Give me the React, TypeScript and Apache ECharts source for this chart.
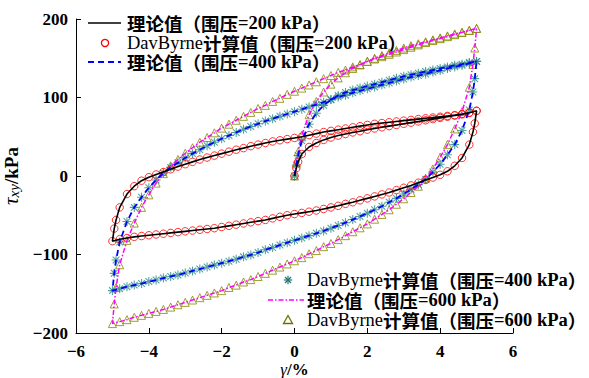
import React, { useEffect, useRef } from 'react';
import * as echarts from 'echarts';

// strain grids (γ, %)
const X_INIT = [0, 0.05, 0.1, 0.2, 0.4, 0.6, 0.8, 1.0, 1.2, 1.4, 1.6, 1.8, 2.0, 2.2, 2.4, 2.6, 2.8, 3.0, 3.2, 3.4, 3.6, 3.8, 4.0, 4.2, 4.4, 4.6, 4.8, 5.0];
const X_DOWN = [5, 4.95, 4.9, 4.8, 4.6, 4.4, 4.2, 4.0, 3.8, 3.6, 3.4, 3.2, 3.0, 2.8, 2.6, 2.4, 2.2, 2.0, 1.8, 1.6, 1.4, 1.2, 1.0, 0.8, 0.6, 0.4, 0.2, 0, -0.2, -0.4, -0.6, -0.8, -1.0, -1.2, -1.4, -1.6, -1.8, -2.0, -2.2, -2.4, -2.6, -2.8, -3.0, -3.2, -3.4, -3.6, -3.8, -4.0, -4.2, -4.4, -4.6, -4.8, -5.0];
const X_UP = [-5, -4.95, -4.9, -4.8, -4.6, -4.4, -4.2, -4.0, -3.8, -3.6, -3.4, -3.2, -3.0, -2.8, -2.6, -2.4, -2.2, -2.0, -1.8, -1.6, -1.4, -1.2, -1.0, -0.8, -0.6, -0.4, -0.2, 0, 0.2, 0.4, 0.6, 0.8, 1.0, 1.2, 1.4, 1.6, 1.8, 2.0, 2.2, 2.4, 2.6, 2.8, 3.0, 3.2, 3.4, 3.6, 3.8, 4.0, 4.2, 4.4, 4.6, 4.8, 5.0];

// 围压 200 kPa: initial loading, unloading, reloading (τxy, kPa)
const I200 = [0, 10, 18, 28, 37, 42, 46, 49, 51.5, 53.5, 55.5, 57, 59, 60.5, 62, 63.5, 65, 66.5, 68, 69.5, 71, 72.5, 74, 75.5, 77, 78.5, 80.5, 83];
const U200 = [83, 67, 56, 40, 23, 13, 6, 1.5, -2, -5, -8.5, -12, -15, -18, -21, -23.5, -26, -28.5, -31, -33.5, -35.5, -38, -40, -42, -44, -45.5, -47, -48.5, -50, -52, -54, -56, -57.5, -59, -60.5, -62, -63.5, -65, -66.5, -67.5, -68.5, -69.5, -70.5, -71.5, -72.5, -73.5, -74.5, -75.5, -76.5, -77.5, -79, -80.5, -83];
const R200 = [-83, -67, -56, -40, -23, -13, -6, -1.5, 2, 5, 8.5, 12, 15, 18, 21, 23.5, 26, 28.5, 31, 33.5, 35.5, 38, 40, 42, 44, 45.5, 47, 48.5, 50, 52, 54, 56, 57.5, 59, 60.5, 62, 63.5, 65, 66.5, 67.5, 68.5, 69.5, 70.5, 71.5, 72.5, 73.5, 74.5, 75.5, 76.5, 77.5, 79, 80.5, 83];

// 围压 400 kPa
const I400 = [0, 14, 26, 45, 66, 80, 90, 97, 102.5, 106.5, 109.5, 112, 114.5, 117, 119.5, 122, 124.5, 127, 129, 131, 133, 135, 137, 139, 141, 142.5, 144.5, 146];
const U400 = [146, 124, 107, 84, 58, 40, 27, 15, 5, -4, -11, -17, -23, -28.5, -33.5, -38.5, -43, -47.5, -51.5, -55.5, -59.5, -63, -66.5, -70, -73, -76, -79, -82, -85, -88, -91, -94, -97.5, -100.5, -103, -106, -108.5, -111, -113.5, -116, -118.5, -121, -123.5, -126, -128, -130, -132.5, -134.5, -137, -139, -141, -143.5, -146];
const R400 = [-146, -124, -107, -84, -58, -40, -27, -15, -5, 4, 11, 17, 23, 28.5, 33.5, 38.5, 43, 47.5, 51.5, 55.5, 59.5, 63, 66.5, 70, 73, 76, 79, 82, 85, 88, 91, 94, 97.5, 100.5, 103, 106, 108.5, 111, 113.5, 116, 118.5, 121, 123.5, 126, 128, 130, 132.5, 134.5, 137, 139, 141, 143.5, 146];

// 围压 600 kPa
const I600 = [0, 17, 31, 52, 78, 95, 107, 117, 125, 131.5, 137, 141.5, 146, 150, 153.5, 157, 160, 163, 166, 168.5, 171, 173.5, 176, 178.5, 181, 183, 185.5, 188];
const U600 = [188, 163, 142, 113, 82, 60, 40, 24, 9, -3, -13, -21, -29, -36, -43, -49, -55, -61, -66, -71, -76, -81, -86, -90, -95, -99, -104, -108, -112, -116, -120, -124, -128, -132, -135, -139, -142, -146, -149, -152, -155, -158, -161, -164, -167, -170, -172.5, -175, -177.5, -180, -183, -185.5, -188];
const R600 = [-188, -163, -142, -113, -82, -60, -40, -24, -9, 3, 13, 21, 29, 36, 43, 49, 55, 61, 66, 71, 76, 81, 86, 90, 95, 99, 104, 108, 112, 116, 120, 124, 128, 132, 135, 139, 142, 146, 149, 152, 155, 158, 161, 164, 167, 170, 172.5, 175, 177.5, 180, 183, 185.5, 188];

const SERIF = "'Liberation Serif','Times New Roman',serif";
const CJK = "'Noto Sans CJK SC','Noto Sans CJK JP',sans-serif";

const NAME_T200 = '理论值（围压=200 kPa）';
const NAME_D200 = 'DavByrne计算值（围压=200 kPa）';
const NAME_T400 = '理论值（围压=400 kPa）';
const NAME_D400 = 'DavByrne计算值（围压=400 kPa）';
const NAME_T600 = '理论值（围压=600 kPa）';
const NAME_D600 = 'DavByrne计算值（围压=600 kPa）';

const ASTERISK = 'path://M4.4,0H5.6V10H4.4Z M0,4.4H10V5.6H0Z M0.85,1.7L1.7,0.85L9.15,8.3L8.3,9.15Z M8.3,0.85L9.15,1.7L1.7,9.15L0.85,8.3Z';

const zip = (xs: number[], ys: number[]) => xs.map((x, i) => [x, ys[i]]);
const loop = (i: number[], u: number[], r: number[]) => [
  ...zip(X_INIT, i),
  ...zip(X_DOWN, u).slice(1),
  ...zip(X_UP, r).slice(1),
];

const RICH = {
  c: { fontFamily: CJK, fontWeight: 'bold', fontSize: 18.5, lineHeight: 15, color: '#000' },
  n: { fontFamily: SERIF, fontWeight: 'bold', fontSize: 18.5, lineHeight: 15, color: '#000' },
  d: { fontFamily: SERIF, fontWeight: 'normal', fontSize: 18.5, lineHeight: 15, color: '#000' },
};

const legendText = (x: number, y: number, p: string, calc: boolean) => ({
  type: 'text',
  x,
  y,
  style: {
    text: (calc ? '{d|DavByrne}{c|计算值（围压}' : '{c|理论值（围压}') + '{n|=' + p + ' kPa}{c|）}',
    rich: RICH,
    verticalAlign: 'middle',
    align: 'left',
  },
});

const fmt = (v: number) => String(v).replace('-', '\u2212');

export default function App() {
  const ref = useRef<HTMLDivElement>(null);
  useEffect(() => {
    const chart = echarts.init(ref.current!, undefined, { renderer: 'svg' });
    const d200 = loop(I200, U200, R200);
    const d400 = loop(I400, U400, R400);
    const d600 = loop(I600, U600, R600);
    const axisCommon = {
      type: 'value',
      axisLine: { onZero: false, lineStyle: { color: '#000', width: 1 } },
      axisTick: { inside: true, length: 5, lineStyle: { color: '#000' } },
      splitLine: { show: false },
    };
    const ast = { cx: 288, cy: 280, r: 4.2 };
    const option: any = {
      animation: false,
      backgroundColor: '#fff',
      grid: { left: 76, right: 76, top: 19, bottom: 45, containLabel: false, outerBoundsMode: 'none' },
      xAxis: {
        ...axisCommon,
        min: -6,
        max: 6,
        interval: 2,
        axisLabel: { color: '#000', fontFamily: SERIF, fontWeight: 'bold', fontSize: 17, margin: 10, formatter: fmt },
        name: '{g|γ}{k|/%}',
        nameLocation: 'middle',
        nameGap: 36,
        nameMoveOverlap: false,
        nameTextStyle: {
          verticalAlign: 'middle',
          rich: {
            g: { fontFamily: SERIF, fontStyle: 'italic', fontSize: 17, lineHeight: 14, color: '#000' },
            k: { fontFamily: SERIF, fontWeight: 'bold', fontSize: 17, lineHeight: 14, color: '#000' },
          },
        },
      },
      yAxis: {
        ...axisCommon,
        min: -200,
        max: 200,
        interval: 100,
        axisLabel: { color: '#000', fontFamily: SERIF, fontWeight: 'bold', fontSize: 17, margin: 8, formatter: fmt },
        name: '{t|τ}{s|xy}{k|/kPa}',
        nameLocation: 'middle',
        nameGap: 51,
        nameTextStyle: {
          rich: {
            t: { fontFamily: SERIF, fontStyle: 'italic', fontSize: 21, color: '#000' },
            s: { fontFamily: SERIF, fontStyle: 'italic', fontSize: 15, color: '#000', verticalAlign: 'bottom' },
            k: { fontFamily: SERIF, fontWeight: 'bold', fontSize: 19, color: '#000' },
          },
        },
      },
      series: [
        {
          name: NAME_D600, type: 'scatter', data: d600, symbol: 'triangle', symbolSize: 8,
          itemStyle: { color: 'rgba(0,0,0,0)', borderColor: '#878700', borderWidth: 1 },
        },
        {
          name: NAME_D400, type: 'scatter', data: d400, symbol: ASTERISK, symbolSize: 9,
          itemStyle: { color: '#2a8a8a' },
        },
        {
          name: NAME_D200, type: 'scatter', data: d200, symbol: 'circle', symbolSize: 7.5,
          itemStyle: { color: 'rgba(0,0,0,0)', borderColor: '#ff0000', borderWidth: 1 },
        },
        {
          name: NAME_T600, type: 'line', data: d600, showSymbol: false, symbol: 'none',
          lineStyle: { color: '#ff00ff', width: 1.5, type: [5, 2, 1.5, 2] },
        },
        {
          name: NAME_T400, type: 'line', data: d400, showSymbol: false, symbol: 'none',
          lineStyle: { color: '#0000ff', width: 1.8, type: [6, 4] },
        },
        {
          name: NAME_T200, type: 'line', data: d200, showSymbol: false, symbol: 'none',
          lineStyle: { color: '#000000', width: 1.6 },
        },
      ],
      graphic: [
        { type: 'line', shape: { x1: 88, y1: 23, x2: 121, y2: 23 }, style: { stroke: '#000', lineWidth: 1.6 } },
        legendText(127, 23, '200', false),
        { type: 'circle', shape: { cx: 105, cy: 43, r: 3.6 }, style: { fill: 'none', stroke: '#ff0000', lineWidth: 1.3 } },
        legendText(127, 43, '200', true),
        { type: 'line', shape: { x1: 88, y1: 62, x2: 121, y2: 62 }, style: { stroke: '#0000ff', lineWidth: 2, lineDash: [6, 4] } },
        legendText(127, 62, '400', false),

        { type: 'line', shape: { x1: ast.cx - ast.r, y1: ast.cy, x2: ast.cx + ast.r, y2: ast.cy }, style: { stroke: '#1f7575', lineWidth: 1.2 } },
        { type: 'line', shape: { x1: ast.cx, y1: ast.cy - ast.r, x2: ast.cx, y2: ast.cy + ast.r }, style: { stroke: '#1f7575', lineWidth: 1.2 } },
        { type: 'line', shape: { x1: ast.cx - 3, y1: ast.cy - 3, x2: ast.cx + 3, y2: ast.cy + 3 }, style: { stroke: '#1f7575', lineWidth: 1.2 } },
        { type: 'line', shape: { x1: ast.cx - 3, y1: ast.cy + 3, x2: ast.cx + 3, y2: ast.cy - 3 }, style: { stroke: '#1f7575', lineWidth: 1.2 } },
        legendText(307, 280, '400', true),
        { type: 'line', shape: { x1: 268, y1: 300, x2: 304, y2: 300 }, style: { stroke: '#ff00ff', lineWidth: 1.5, lineDash: [5, 2, 1.5, 2] } },
        legendText(307, 300, '600', false),
        { type: 'polygon', shape: { points: [[288, 315.5], [292.5, 323.5], [283.5, 323.5]] }, style: { fill: 'none', stroke: '#6f6f00', lineWidth: 1.3 } },
        legendText(307, 320, '600', true),
      ],
    };
    chart.setOption(option);
    return () => chart.dispose();
  }, []);
  return (
    <div
      ref={ref}
      style={{ position: 'fixed', left: 0, top: 0, width: 589, height: 378, background: '#fff' }}
    />
  );
}
